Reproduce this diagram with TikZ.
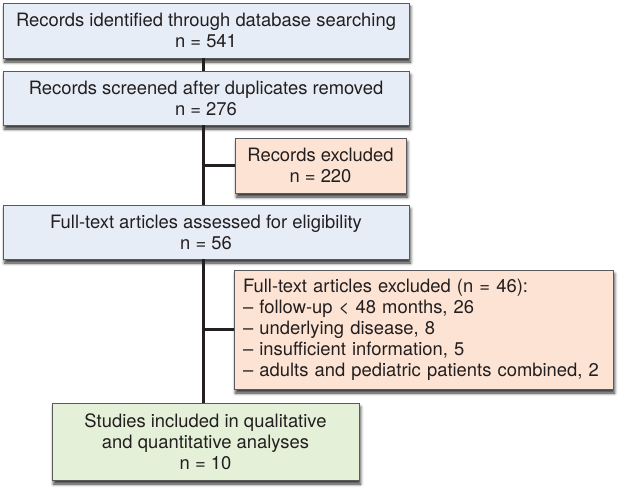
\documentclass[tikz,border=0pt]{standalone}
\usepackage{fontspec}
\setmainfont{TeX Gyre Heros}
\usetikzlibrary{shadows.blur}

\definecolor{boxblue}{HTML}{E7EDF7}
\definecolor{boxpink}{HTML}{FCE3D3}
\definecolor{boxgreen}{HTML}{E5F0D9}
\definecolor{boxline}{HTML}{5A5A5A}
\definecolor{linktext}{HTML}{231F20}

\begin{document}
\begin{tikzpicture}[
        x=1pt, y=-1pt, % координаты в пикселях
        link/.style = {draw=linktext, line width=3pt}, % Линии
        box/.style={draw=boxline, line width=0.7pt, fill=boxblue, text=linktext, align=center, inner sep=0pt,
            font=\fontsize{18.4}{21}\selectfont,
            blur shadow={shadow xshift=1.5pt, shadow yshift=-4pt, shadow opacity=80, shadow blur radius=3pt}}, % Стиль блоков
        excl/.style={box, fill=boxpink},
        done/.style={box, fill=boxgreen},
    ]
    \useasboundingbox (0,0) rectangle (618,495);

    \node[box, minimum width=406pt, minimum height=55pt] (found) at (206,30.5)
        {Records identified through database searching\\ n = 541};
    \node[box, minimum width=406pt, minimum height=54pt] (screened) at (206,98)
        {Records screened after duplicates removed\\ n = 276};
    \node[excl, minimum width=171pt, minimum height=55pt] (recexcl) at (320.5,165.5)
        {Records excluded\\ n = 220};
    \node[box, minimum width=406pt, minimum height=54pt] (fulltext) at (206,232)
        {Full-text articles assessed for eligibility\\ n = 56};
    \node[excl, minimum width=379pt, minimum height=119pt, align=left, text width=361pt] (ftexcl) at (423.5,329.5)
        {Full-text articles excluded (n = 46):\\
         -- follow-up < 48 months, 26\\
         -- underlying disease, 8\\
         -- insufficient information, 5\\
         -- adults and pediatric patients combined, 2};
    \node[done, minimum width=307pt, minimum height=77pt] (included) at (205.5,441.5)
        {Studies included in qualitative\\ and quantitative analyses\\ n = 10};

    \coordinate (spine) at (203,0);
    \draw[link] (found.south -| spine) -- (screened.north -| spine);
    \draw[link] (screened.south -| spine) -- (fulltext.north -| spine);
    \draw[link] (fulltext.south -| spine) -- (included.north -| spine);
    \draw[link] (spine |- recexcl.west) -- (recexcl.west);
    \draw[link] (spine |- ftexcl.west) -- (ftexcl.west);
\end{tikzpicture}
\end{document}
